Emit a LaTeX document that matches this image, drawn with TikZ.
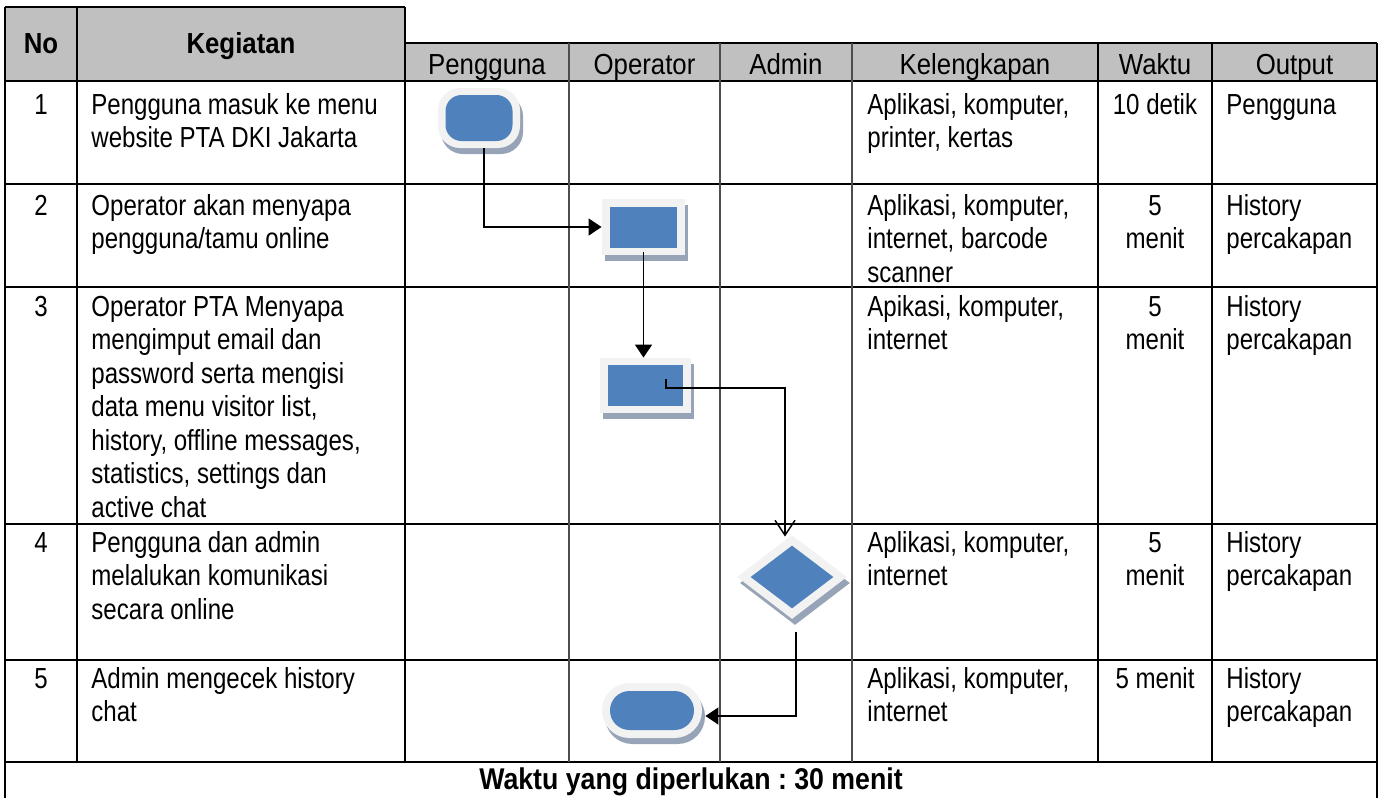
\documentclass[tikz,border=0pt]{standalone}
\usepackage{fontspec}
\setmainfont{Liberation Sans}[FakeStretch=0.83]
\newfontfamily\hdrfont{Liberation Sans}[FakeStretch=0.89]
\usetikzlibrary{shapes.geometric,arrows.meta,shadows}
\definecolor{hdrgray}{HTML}{C0C0C0}
\definecolor{fillblue}{HTML}{4F81BD}
\definecolor{framew}{HTML}{F2F2F2}
\definecolor{shadowc}{HTML}{97A3B6}
\definecolor{lanegray}{HTML}{4D4D4D}
\frenchspacing
\begin{document}
\begin{tikzpicture}[x=0.5pt,y=-0.5pt,
 hline/.style={line width=1pt, black},
 vline/.style={line width=0.7pt, black},
 lane/.style={line width=0.7pt, lanegray},
 border/.style={line width=1pt, black},
 bodytxt/.style={anchor=north west, inner sep=0pt, align=left, font=\fontsize{14.5}{16.75}\selectfont},
 ctrtxt/.style={anchor=north, inner sep=0pt, align=center, font=\fontsize{14.5}{16.75}\selectfont},
 hdr/.style={anchor=base, inner sep=0pt, font=\hdrfont\fontsize{14.5}{16.75}\selectfont},
 hdrbold/.style={anchor=base, inner sep=0pt, font=\hdrfont\bfseries\fontsize{14.5}{16.75}\selectfont},
 footbold/.style={anchor=base, inner sep=0pt, font=\hdrfont\bfseries\fontsize{15}{17}\selectfont},
 frame/.style={fill=framew, draw=none, inner sep=0pt, drop shadow={shadow xshift=1.5pt, shadow yshift=-3pt, fill=shadowc, opacity=1}},
 core/.style={fill=fillblue, draw=none, inner sep=0pt},
 conn/.style={line width=0.75pt, black},
 solidtip/.style={-{Triangle[length=6.5pt,width=8.5pt]}},
 opentip/.style={-{Straight Barb[length=7.5pt,width=10pt]}}
]
\useasboundingbox (0,0) rectangle (1382,798);
% header fills
\fill[hdrgray] (5,7) rectangle (405,81);
\fill[hdrgray] (405,43) rectangle (1377,81);
% table lines
\draw[hline] (5,7) -- (405,7);
\draw[hline] (405,43) -- (1377,43);
\foreach \yy in {81,184,287,524,660,762} \draw[hline] (5,\yy) -- (1377,\yy);
\draw[border] (5,7) -- (5,798);
\draw[border] (1377,43) -- (1377,798);
\draw[vline] (77,7) -- (77,762);
\draw[vline] (405,7) -- (405,762);
\foreach \xx in {569,720,852} \draw[lane] (\xx,43) -- (\xx,762);
\foreach \xx in {1098,1212} \draw[vline] (\xx,43) -- (\xx,762);
% headers
\node[hdrbold] (hno) at (41,53) {No};
\node[hdrbold] (hkeg) at (241,53) {Kegiatan};
\node[hdr] (hpg) at (487,74) {Pengguna};
\node[hdr] (hop) at (644.5,74) {Operator};
\node[hdr] (had) at (786,74) {Admin};
\node[hdr] (hkel) at (975,74) {Kelengkapan};
\node[hdr] (hwak) at (1155,74) {Waktu};
\node[hdr] (hout) at (1294.5,74) {Output};
% row 1
\node[ctrtxt] (n1) at (41,90.5) {\strut 1};
\node[bodytxt] (k1) at (91,90.5) {\strut Pengguna masuk ke menu\\website PTA DKI Jakarta};
\node[bodytxt] (e1) at (867,90.5) {\strut Aplikasi, komputer,\\printer, kertas};
\node[ctrtxt] (w1) at (1155,90.5) {\strut 10 detik};
\node[bodytxt] (o1) at (1226,90.5) {\strut Pengguna};
% row 2
\node[ctrtxt] (n2) at (41,191.5) {\strut 2};
\node[bodytxt] (k2) at (91,191.5) {\strut Operator akan menyapa\\pengguna/tamu online};
\node[bodytxt] (e2) at (867,191.5) {\strut Aplikasi, komputer,\\internet, barcode\\scanner};
\node[ctrtxt] (w2) at (1155,191.5) {\strut 5\\menit};
\node[bodytxt] (o2) at (1226,191.5) {\strut History\\percakapan};
% row 3
\node[ctrtxt] (n3) at (41,292.5) {\strut 3};
\node[bodytxt] (k3) at (91,292.5) {\strut Operator PTA Menyapa\\mengimput email dan\\password serta mengisi\\data menu visitor list,\\history, offline messages,\\statistics, settings dan\\active chat};
\node[bodytxt] (e3) at (867,292.5) {\strut Apikasi, komputer,\\internet};
\node[ctrtxt] (w3) at (1155,292.5) {\strut 5\\menit};
\node[bodytxt] (o3) at (1226,292.5) {\strut History\\percakapan};
% row 4
\node[ctrtxt] (n4) at (41,528.5) {\strut 4};
\node[bodytxt] (k4) at (91,528.5) {\strut Pengguna dan admin\\melalukan komunikasi\\secara online};
\node[bodytxt] (e4) at (867,528.5) {\strut Aplikasi, komputer,\\internet};
\node[ctrtxt] (w4) at (1155,528.5) {\strut 5\\menit};
\node[bodytxt] (o4) at (1226,528.5) {\strut History\\percakapan};
% row 5
\node[ctrtxt] (n5) at (41,664.5) {\strut 5};
\node[bodytxt] (k5) at (91,664.5) {\strut Admin mengecek history\\chat};
\node[bodytxt] (e5) at (867,664.5) {\strut Aplikasi, komputer,\\internet};
\node[ctrtxt] (w5) at (1155,664.5) {\strut 5 menit};
\node[bodytxt] (o5) at (1226,664.5) {\strut History\\percakapan};
% footer
\node[footbold] (foot) at (691,789) {Waktu yang diperlukan : 30 menit};
% flow shapes
\node[frame, rounded corners=11pt, minimum width=41pt, minimum height=30pt] (t1) at (479,118) {};
\node[core, rounded corners=8pt, minimum width=33.5pt, minimum height=23pt] (t1c) at (t1) {};
\node[frame, minimum width=41.5pt, minimum height=28pt] (p2) at (643.5,227) {};
\node[core, minimum width=33.5pt, minimum height=20.5pt] (p2c) at (p2) {};
\node[frame, minimum width=45.5pt, minimum height=27.5pt] (p3) at (645.5,385.5) {};
\node[core, minimum width=37.5pt, minimum height=20.5pt] (p3c) at (p3) {};
\node[frame, diamond, minimum width=55pt, minimum height=42pt] (d4) at (792,577) {};
\node[core, diamond, minimum width=41.5pt, minimum height=31.5pt] (d4c) at (d4) {};
\node[frame, rounded corners=13.7pt, minimum width=50pt, minimum height=27.5pt] (t5) at (652,710.5) {};
\node[core, rounded corners=9.7pt, minimum width=42pt, minimum height=19.5pt] (t5c) at (t5) {};
% connectors
\draw[conn, solidtip] ([shift={(5,0)}]t1.south) |- (p2.west);
\draw[conn, solidtip] ([shift={(0,-3)}]p2.south) -- (p2.south |- p3.north);
\draw[conn, opentip] ([shift={(20.5,-6.5)}]p3.center) -- ++(0,9) -| ([shift={(-7,2)}]d4.north);
\draw[conn, solidtip] ([shift={(4,13)}]d4.south) |- ([shift={(3,5.5)}]t5.east);
\end{tikzpicture}
\end{document}
